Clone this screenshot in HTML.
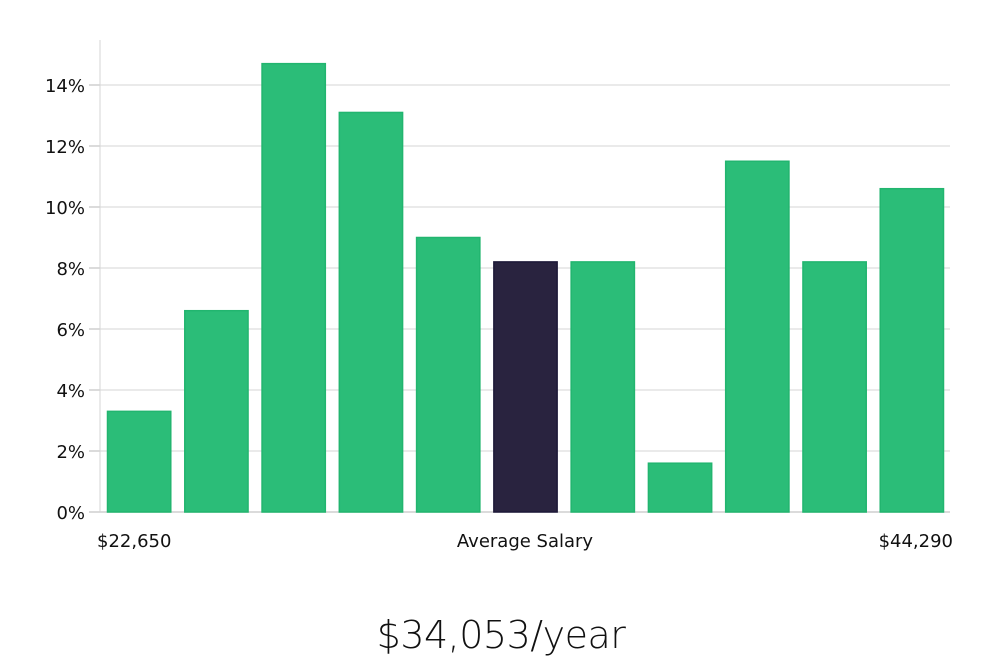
<!DOCTYPE html>
<html><head><meta charset="utf-8"><style>
html,body{margin:0;padding:0;background:#fff;}
body{width:1000px;height:660px;overflow:hidden;}
svg text{font-family:"DejaVu Sans","Liberation Sans",sans-serif;fill:#111;}
</style></head><body>
<svg id="chart" width="1000" height="660" xmlns="http://www.w3.org/2000/svg">
<g id="grid"></g><g id="bars"></g><g id="axes"></g>
<text x="97" y="547" font-size="18">$22,650</text>
<text x="525" y="547" font-size="18" text-anchor="middle">Average Salary</text>
<text x="953" y="547" font-size="18" text-anchor="end">$44,290</text>
<text x="501" y="648" font-size="38" text-anchor="middle" style="font-family:'DejaVu Sans','Liberation Sans',sans-serif;font-weight:300;letter-spacing:-0.5px">$34,053/year</text>
</svg>
<script>
const categories = ["b1","b2","b3","b4","b5","b6","b7","b8","b9","b10","b11"];
const values = [3.3, 6.6, 14.7, 13.1, 9.0, 8.2, 8.2, 1.6, 11.5, 8.2, 10.6];
const highlightIndex = 5;
const tickValues = [0, 2, 4, 6, 8, 10, 12, 14];
const tickLabels = ["0%","2%","4%","6%","8%","10%","12%","14%"];

const NS = "http://www.w3.org/2000/svg";
const x0 = 100, x1 = 950, yBase = 512, pxPerUnit = (512 - 85) / 14;
const band = (x1 - x0) / categories.length;
function yScale(v){ return yBase - v * pxPerUnit; }
function xScale(i){ return x0 + i * band; }

const grid = document.getElementById('grid');
const axes = document.getElementById('axes');
const barsG = document.getElementById('bars');

tickValues.forEach((t, i) => {
  const y = yScale(t);
  const gl = document.createElementNS(NS, 'line');
  
  
  gl.setAttribute('x1', x0); gl.setAttribute('x2', x1);
  gl.setAttribute('y1', y); gl.setAttribute('y2', y);
  gl.setAttribute('stroke', t === 0 ? '#cfcfcf' : '#e3e3e3');
  gl.setAttribute('stroke-width', '1.5');
  grid.appendChild(gl);
  const tk = document.createElementNS(NS, 'line');
  
  
  tk.setAttribute('x1', 89); tk.setAttribute('x2', x0);
  tk.setAttribute('y1', y); tk.setAttribute('y2', y);
  tk.setAttribute('stroke', '#cfcfcf');
  tk.setAttribute('stroke-width', '1.5');
  axes.appendChild(tk);
  const tx = document.createElementNS(NS, 'text');
  
  
  tx.setAttribute('x', 85); tx.setAttribute('y', y + 7);
  tx.setAttribute('text-anchor', 'end');
  tx.setAttribute('font-size', '18');
  tx.textContent = tickLabels[i];
  axes.appendChild(tx);
});
const yAxis = document.createElementNS(NS, 'line');


yAxis.setAttribute('x1', x0); yAxis.setAttribute('x2', x0);
yAxis.setAttribute('y1', 40); yAxis.setAttribute('y2', yBase);
yAxis.setAttribute('stroke', '#d6d6d6');
axes.appendChild(yAxis);

values.forEach((v, i) => {
  const r = document.createElementNS(NS, 'rect');
  
  
  const bw = band - 14;
  r.setAttribute('x', xScale(i) + 7.5);
  r.setAttribute('y', yScale(v));
  r.setAttribute('width', bw);
  r.setAttribute('height', yBase - yScale(v));
  const hi = i === highlightIndex;
  r.setAttribute('fill', hi ? '#29233f' : '#2bbd78');
  r.setAttribute('stroke', hi ? '#1d1838' : '#22b56f');
  r.setAttribute('stroke-width', '1.5');
  barsG.appendChild(r);
});
</script>
</body></html>
